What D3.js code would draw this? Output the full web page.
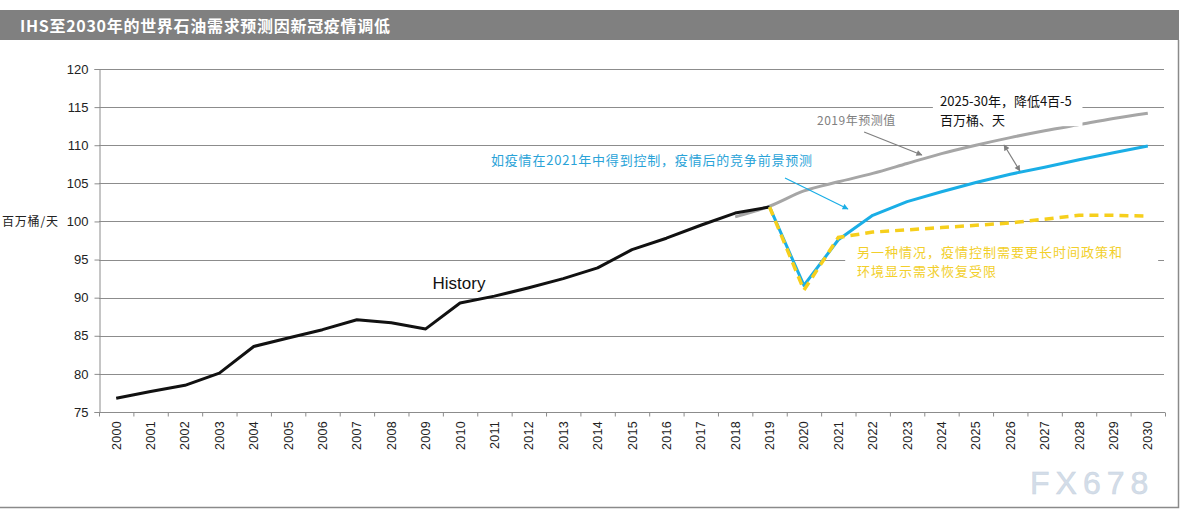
<!DOCTYPE html>
<html>
<head>
<meta charset="utf-8">
<script src="https://cdn.jsdelivr.net/npm/d3@7"></script>
<style>
  body { margin: 0; background: #fff; }
  svg text { font-family: "Liberation Sans", Arial, sans-serif; }
  .cjk { font-family: "Noto Sans CJK SC", sans-serif; }
</style>
</head>
<body>
<div id="chart"></div>
<script>
// categories
var years = [2000, 2001, 2002, 2003, 2004, 2005, 2006, 2007, 2008, 2009, 2010,
             2011, 2012, 2013, 2014, 2015, 2016, 2017, 2018, 2019, 2020,
             2021, 2022, 2023, 2024, 2025, 2026, 2027, 2028, 2029, 2030];
var yTicks = [75, 80, 85, 90, 95, 100, 105, 110, 115, 120];

// history 2000-2019
var historyVals = [76.8, 77.7, 78.5, 80.1, 83.6, 84.7, 85.8, 87.1, 86.7, 85.9,
                   89.3, 90.2, 91.3, 92.5, 93.9, 96.3, 97.8, 99.5, 101.1, 101.9];
// 2019 forecast, 2018-2030
var forecastYears = [2018, 2019, 2020, 2021, 2022, 2023, 2024, 2025, 2026, 2027, 2028, 2029, 2030];
var forecastVals = [100.6, 102.0, 104.0, 105.2, 106.3, 107.6, 108.9, 110.0, 111.0, 111.9, 112.7, 113.5, 114.2];
// scenarios, 2019-2030
var scenYears = [2019, 2020, 2021, 2022, 2023, 2024, 2025, 2026, 2027, 2028, 2029, 2030];
var recoveryVals = [101.9, 91.6, 97.6, 100.8, 102.6, 103.9, 105.1, 106.2, 107.1, 108.1, 109.0, 109.9];
var slowVals = [101.9, 91.0, 97.9, 98.6, 98.9, 99.2, 99.5, 99.8, 100.3, 100.8, 100.8, 100.7];

var W = 1183, H = 514;
var margin = {left: 99, right: 1165, top: 69, bottom: 412};

var svg = d3.select("#chart").append("svg")
    .attr("width", W).attr("height", H);

// frame + title bar
svg.append("rect").attr("x", 0).attr("y", 10).attr("width", 1179).attr("height", 30)
    .attr("fill", "#808080");
svg.append("text").attr("class", "cjk")
    .attr("x", 20).attr("y", 31.5)
    .attr("fill", "#fff").attr("font-size", 16).attr("font-weight", "bold")
    .attr("letter-spacing", 0.7)
    .text("IHS至2030年的世界石油需求预测因新冠疫情调低");
svg.append("path").attr("d", "M1178.5,40V507.5H0")
    .attr("fill", "none").attr("stroke", "#8a8a8a").attr("stroke-width", 1.5);

var x = d3.scaleLinear().domain([1999.5, 2030.5]).range([margin.left, margin.right]);
var y = d3.scaleLinear().domain([75, 120]).range([margin.bottom, margin.top]);

// gridlines
svg.append("g").selectAll("line").data(yTicks.slice(1)).enter().append("line")
    .attr("x1", margin.left).attr("x2", margin.right - 1)
    .attr("y1", function(d){ return Math.round(y(d)) + 0.5; })
    .attr("y2", function(d){ return Math.round(y(d)) + 0.5; })
    .attr("stroke", "#8c8c8c").attr("stroke-width", 1);

// y axis
var yAxis = svg.append("g").attr("transform", "translate(" + (margin.left + 0.5) + ",0)")
    .call(d3.axisLeft(y).tickValues(yTicks).tickSize(5).tickPadding(6));
yAxis.selectAll("text").attr("font-size", 13).attr("fill", "#222")
    .attr("font-family", "Liberation Sans, Arial, sans-serif");
yAxis.selectAll("line, path").attr("stroke", "#8c8c8c");

// x axis: ticks at category boundaries
var xAxis = svg.append("g").attr("transform", "translate(0," + (margin.bottom + 0.5) + ")")
    .call(d3.axisBottom(x).tickValues(years.map(function(d){ return d - 0.5; }).concat([2030.5]))
        .tickSize(4).tickFormat(""));
xAxis.selectAll("line, path").attr("stroke", "#8c8c8c");
xAxis.select(".domain").attr("d", "M" + margin.left + ",0H" + margin.right);

svg.append("g").selectAll("text").data(years).enter().append("text")
    .attr("transform", function(d){ return "translate(" + (x(d) + 4.5) + ",421) rotate(-90)"; })
    .attr("text-anchor", "end")
    .attr("font-size", 12.5).attr("fill", "#222").attr("letter-spacing", 0.3)
    .text(function(d){ return d; });

// y unit label
svg.append("text").attr("class", "cjk")
    .attr("x", 2).attr("y", 226).attr("font-size", 12).attr("fill", "#222")
    .attr("letter-spacing", 0.8)
    .text("百万桶/天");

// lines
var line = d3.line()
    .x(function(d){ return x(d[0]); })
    .y(function(d){ return y(d[1]); });
var smooth = d3.line()
    .x(function(d){ return x(d[0]); })
    .y(function(d){ return y(d[1]); })
    .curve(d3.curveMonotoneX);

function pairs(xs, vs){ return xs.map(function(d, i){ return [d, vs[i]]; }); }

svg.append("path").datum(pairs(forecastYears, forecastVals))
    .attr("d", smooth).attr("fill", "none")
    .attr("stroke", "#a6a6a6").attr("stroke-width", 3);

svg.append("path").datum(pairs(years.slice(0, historyVals.length), historyVals))
    .attr("d", line).attr("fill", "none")
    .attr("stroke", "#111").attr("stroke-width", 3).attr("stroke-linejoin", "round");

svg.append("path").datum(pairs(scenYears, recoveryVals))
    .attr("d", line).attr("fill", "none")
    .attr("stroke", "#1aaee6").attr("stroke-width", 3).attr("stroke-linejoin", "round");

svg.append("path").datum(pairs(scenYears, slowVals))
    .attr("d", line).attr("fill", "none")
    .attr("stroke", "#f6cf1c").attr("stroke-width", 3.5)
    .attr("stroke-dasharray", "9,6");

// arrow markers
var defs = svg.append("defs");
function marker(id, color){
  defs.append("marker").attr("id", id)
    .attr("viewBox", "0 0 10 10").attr("refX", 9).attr("refY", 5)
    .attr("markerWidth", 7).attr("markerHeight", 6).attr("orient", "auto-start-reverse")
    .attr("markerUnits", "userSpaceOnUse")
    .append("path").attr("d", "M0,0L10,5L0,10z").attr("fill", color);
}
marker("arrGray", "#7f7f7f");
marker("arrBlue", "#1aaee6");

function arrow(x1, v1, x2, v2, color, mk, both){
  var l = svg.append("line")
    .attr("x1", x(x1)).attr("y1", y(v1)).attr("x2", x(x2)).attr("y2", y(v2))
    .attr("stroke", color).attr("stroke-width", 1.2)
    .attr("marker-end", "url(#" + mk + ")");
  if (both) l.attr("marker-start", "url(#" + mk + ")");
}

// annotations (positions in data units)
svg.append("text").attr("x", x(2009.2)).attr("y", y(91.1))
    .attr("font-size", 17).attr("fill", "#111").text("History");

svg.append("text").attr("class", "cjk").attr("x", x(2020.38)).attr("y", y(112.7))
    .attr("font-size", 12).attr("fill", "#808080").attr("letter-spacing", 0.5)
    .text("2019年预测值");
arrow(2021.75, 111.74, 2023.43, 108.72, "#7f7f7f", "arrGray");

svg.append("text").attr("class", "cjk").attr("x", x(2010.9)).attr("y", y(107.4))
    .attr("font-size", 13).attr("fill", "#2aa3d8").attr("letter-spacing", 0.8)
    .text("如疫情在2021年中得到控制，疫情后的竞争前景预测");
arrow(2019.45, 105.7, 2021.28, 101.63, "#1aaee6", "arrBlue");

svg.append("rect").attr("x", x(2023.75)).attr("y", y(117.2)).attr("width", x(2028.1) - x(2023.75))
    .attr("height", y(112.5) - y(117.2)).attr("fill", "#fff");
svg.append("text").attr("class", "cjk").attr("x", x(2023.96)).attr("y", y(115.15))
    .attr("font-size", 13).attr("fill", "#111")
    .text("2025-30年，降低4百-5");
svg.append("text").attr("class", "cjk").attr("x", x(2023.96)).attr("y", y(112.65))
    .attr("font-size", 13).attr("fill", "#111")
    .text("百万桶、天");
arrow(2025.82, 110.03, 2026.28, 106.62, "#7f7f7f", "arrGray", true);

svg.append("rect").attr("x", x(2021.2)).attr("y", y(97.0)).attr("width", x(2030.3) - x(2021.2))
    .attr("height", y(91.8) - y(97.0)).attr("fill", "#fff");
svg.append("text").attr("class", "cjk").attr("x", x(2021.54)).attr("y", y(95.34))
    .attr("font-size", 13).attr("fill", "#f2cf2a").attr("letter-spacing", 1)
    .text("另一种情况，疫情控制需要更长时间政策和");
svg.append("text").attr("class", "cjk").attr("x", x(2021.54)).attr("y", y(92.84))
    .attr("font-size", 13).attr("fill", "#f2cf2a").attr("letter-spacing", 1)
    .text("环境显示需求恢复受限");

// watermark
svg.append("text").attr("x", 1030).attr("y", 494)
    .attr("font-size", 32).attr("fill", "#d3dde9").attr("letter-spacing", 6)
    .attr("stroke", "#c9d3df").attr("stroke-width", 0.5)
    .text("FX678");
</script>
</body>
</html>
